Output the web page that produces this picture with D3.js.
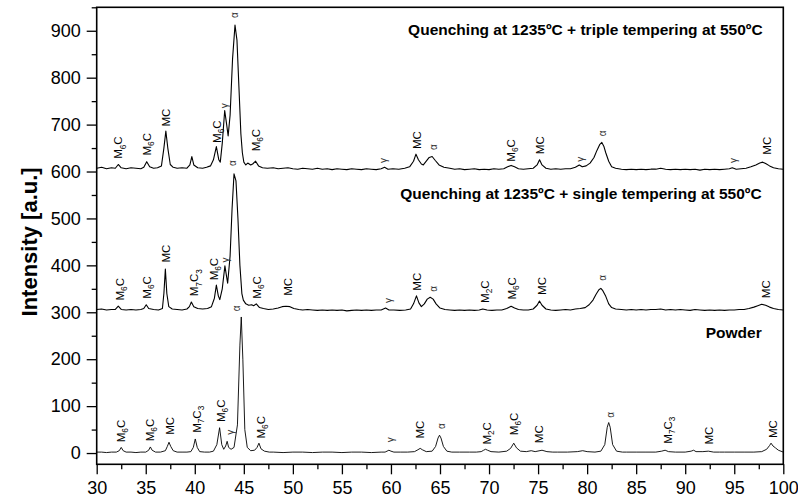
<!DOCTYPE html>
<html>
<head>
<meta charset="utf-8">
<script src="https://cdn.jsdelivr.net/npm/d3@7"></script>
<style>
  body { margin: 0; background: #fff; }
  svg { display: block; font-family: "Liberation Sans", Arial, sans-serif; }
</style>
</head>
<body>
<div id="chart"></div>
<script>
// XRD patterns: powder, single and triple tempering

const X_TICKS = [30, 35, 40, 45, 50, 55, 60, 65, 70, 75, 80, 85, 90, 95, 100];
const Y_TICKS = [0, 100, 200, 300, 400, 500, 600, 700, 800, 900];

// [2theta, intensity]
const tripleTemper = [
  [30,607],[30.5,609],[31,606],[31.5,608],[31.9,607],[32.2,615],[32.5,608],[33,606],[33.5,608],[34,607],
  [34.5,606],[34.8,609],[35.1,621],[35.4,610],[35.8,607],[36.2,608],[36.6,612],[36.85,650],[37.05,686],[37.25,650],
  [37.5,615],[37.8,609],[38.2,607],[38.7,608],[39.2,607],[39.5,614],[39.7,632],[39.9,614],[40.3,608],[40.8,607],
  [41.2,609],[41.6,612],[41.9,625],[42.2,653],[42.45,625],[42.6,620],[42.8,660],[43.05,730],[43.25,700],[43.4,676],
  [43.6,720],[43.85,840],[44.1,912],[44.3,880],[44.5,780],[44.7,680],[44.85,640],[45,620],[45.2,614],[45.4,618],
  [45.7,614],[45.9,616],[46.2,622],[46.5,612],[46.9,608],[47.4,607],[48,608],[48.5,606],[49,607],[49.5,608],
  [50,606],[50.5,605],[51,607],[51.5,606],[52,605],[52.5,607],[53,605],[53.5,606],[54,604],[54.5,606],
  [55,605],[55.5,604],[56,606],[56.5,605],[57,604],[57.5,606],[58,605],[58.5,604],[59,606],[59.35,609],
  [59.7,605],[60.2,606],[60.8,605],[61.4,607],[61.9,610],[62.3,622],[62.55,637],[62.8,625],[63.1,616],[63.3,614],
  [63.6,622],[63.9,630],[64.2,632],[64.5,624],[64.9,614],[65.4,609],[66,607],[66.5,605],[67,606],[67.5,604],
  [68,605],[68.5,606],[69,604],[69.5,605],[70,604],[70.5,606],[71,605],[71.5,606],[71.9,610],[72.25,613],
  [72.6,610],[73,606],[73.5,605],[74,606],[74.5,607],[74.9,614],[75.15,625],[75.4,614],[75.8,607],[76.3,605],
  [76.8,606],[77.3,605],[77.8,606],[78.3,606],[78.8,609],[79.2,614],[79.5,610],[79.9,612],[80.3,618],[80.7,630],
  [81,645],[81.3,658],[81.5,662],[81.7,654],[81.9,640],[82.2,622],[82.5,610],[82.9,607],[83.5,605],[84,604],
  [84.5,605],[85,604],[85.5,605],[86,604],[86.5,605],[87,605],[87.5,607],[88,605],[88.5,604],[89,605],
  [89.5,604],[90,605],[90.5,604],[91,605],[91.5,603],[92,605],[92.5,604],[93,605],[93.5,604],[94,605],
  [94.5,606],[94.8,608],[95.2,605],[95.7,606],[96.2,607],[96.7,610],[97.2,614],[97.6,618],[97.9,620],[98.2,617],
  [98.6,612],[99,608],[99.5,606],[100,605]
];

const singleTemper = [
  [30,306],[30.5,307],[31,305],[31.5,306],[31.9,306],[32.2,313],[32.5,306],[33,305],[33.5,306],[34,305],
  [34.5,306],[34.8,308],[35.05,316],[35.3,308],[35.8,306],[36.3,305],[36.7,308],[36.85,340],[37,392],[37.15,340],
  [37.35,312],[37.7,307],[38.2,306],[38.7,305],[39.2,307],[39.45,312],[39.65,322],[39.9,312],[40.3,308],[40.8,307],
  [41.3,308],[41.7,312],[42,330],[42.2,358],[42.4,335],[42.55,327],[42.8,350],[43.07,399],[43.25,375],[43.35,362],
  [43.6,420],[43.8,520],[44,595],[44.2,580],[44.4,500],[44.6,400],[44.8,340],[44.95,326],[45.2,318],[45.5,315],
  [45.8,316],[46,314],[46.27,318],[46.6,310],[47,308],[47.5,306],[48,307],[48.5,309],[48.9,312],[49.3,313],
  [49.7,312],[50.1,308],[50.6,306],[51,305],[51.5,306],[52,305],[52.5,304],[53,305],[53.5,304],[54,305],
  [54.5,304],[55,305],[55.5,303],[56,304],[56.5,305],[57,304],[57.5,305],[58,304],[58.5,305],[59,305],
  [59.45,309],[59.8,305],[60.3,305],[60.9,304],[61.5,305],[62,307],[62.3,318],[62.6,335],[62.85,320],[63.1,312],
  [63.4,318],[63.7,328],[64,332],[64.3,328],[64.6,318],[65,309],[65.5,306],[66,305],[66.5,304],[67,305],
  [67.5,304],[68,305],[68.5,304],[69,305],[69.36,307],[69.8,305],[70.3,304],[70.8,305],[71.3,305],[71.8,308],
  [72.25,313],[72.6,309],[73,306],[73.5,305],[74,305],[74.5,307],[74.9,315],[75.14,324],[75.4,315],[75.8,307],
  [76.3,305],[76.8,304],[77.3,305],[77.8,306],[78.3,305],[78.8,307],[79.3,308],[79.8,310],[80.2,316],[80.6,326],
  [80.9,338],[81.2,348],[81.4,351],[81.6,346],[81.9,334],[82.2,318],[82.5,310],[82.9,307],[83.5,306],[84,305],
  [84.5,306],[85,305],[85.5,306],[86,305],[86.5,306],[87,306],[87.5,307],[88,305],[88.5,306],[89,305],
  [89.5,306],[90,305],[90.5,304],[91,306],[91.5,305],[92,304],[92.5,305],[93,304],[93.5,305],[94,304],
  [94.5,305],[95,305],[95.5,306],[96,306],[96.5,308],[97,311],[97.4,314],[97.8,317],[98.2,315],[98.6,311],
  [99,308],[99.5,306],[100,305]
];

const powder = [
  [30,2],[30.5,2],[31,1],[31.5,2],[32,2],[32.3,5],[32.5,12],[32.7,5],[33,2],[33.5,2],
  [34,1],[34.5,2],[35,2],[35.3,6],[35.47,13],[35.65,6],[36,2],[36.5,2],[37,5],[37.2,14],
  [37.37,23],[37.55,14],[37.8,5],[38.2,2],[38.7,2],[39.2,2],[39.6,3],[39.85,12],[40.05,30],[40.25,12],
  [40.5,3],[41,2],[41.5,2],[41.9,4],[42.25,18],[42.53,54],[42.75,18],[42.95,8],[43.15,15],[43.3,25],
  [43.45,12],[43.7,8],[44,12],[44.35,60],[44.6,230],[44.74,290],[44.9,200],[45.1,50],[45.35,12],[45.7,5],
  [46.1,6],[46.35,12],[46.54,21],[46.75,9],[47.1,4],[47.6,2],[48,2],[49,1],[50,2],[51,2],
  [52,1],[53,2],[54,2],[55,1],[56,2],[57,2],[58,1],[59,2],[59.4,2],[59.6,4],
  [59.79,6],[60,4],[60.3,2],[61,2],[61.7,2],[62.4,3],[62.75,7],[62.98,10],[63.2,7],[63.6,3],
  [64.2,4],[64.55,14],[64.8,32],[64.95,38],[65.1,32],[65.35,14],[65.7,4],[66.2,2],[67,2],[68,2],
  [68.7,2],[69.2,3],[69.45,6],[69.64,8],[69.85,6],[70.2,3],[71,2],[71.8,4],[72.2,10],[72.52,21],
  [72.8,11],[73.2,4],[73.8,3],[74.3,5],[74.7,3],[75.4,6],[75.9,3],[76.5,2],[77,2],[78,2],
  [79,3],[79.55,5],[80,3],[80.8,2],[81.4,4],[81.8,18],[82.05,55],[82.2,65],[82.35,55],[82.6,18],
  [83,4],[83.6,2],[84,2],[85,2],[86,2],[87,2],[87.6,4],[87.95,6],[88.3,3],[89,2],
  [90,2],[90.6,4],[90.86,6],[91.1,3],[91.8,3],[92.36,4],[92.9,2],[93.5,2],[94,2],[95,2],
  [96,2],[97,2],[97.8,3],[98.3,8],[98.6,16],[98.75,21],[98.95,15],[99.2,11],[99.5,6],[100,2]
];

// phase labels: [2theta, intensity at label foot, phase]  ("_n" = subscript)
const tripleLabels = [
  [32.2,627,"M_6C"],[35.1,634,"M_6C"],[37.05,696,"MC"],[42.2,661,"M_6C"],[43.0,735,"γ"],[44.05,927,"α"],
  [46.25,643,"M_6C"],[59.2,618,"γ"],[62.65,648,"MC"],[64.3,646,"α"],[72.25,621,"M_6C"],[75.2,637,"MC"],
  [79.35,621,"γ"],[81.6,675,"α"],[94.9,618,"γ"],[98.3,636,"MC"]
];
const singleLabels = [
  [32.35,325,"M_6C"],[35.1,329,"M_6C"],[37.1,406,"MC"],[39.95,334,"M_7C_3"],[41.9,368,"M_6C"],[43.08,406,"γ"],
  [43.85,612,"α"],[46.3,329,"M_6C"],[49.5,335,"MC"],[59.7,320,"γ"],[62.6,346,"MC"],[64.3,344,"α"],
  [69.6,320,"M_2C"],[72.3,327,"M_6C"],[75.35,337,"MC"],[81.6,367,"α"],[98.25,330,"MC"]
];
const powderLabels = [
  [32.45,23,"M_6C"],[35.43,25,"M_6C"],[37.47,39,"MC"],[40.2,43,"M_7C_3"],[42.64,66,"M_6C"],[43.6,39,"γ"],
  [44.27,302,"α"],[46.7,31,"M_6C"],[59.9,23,"γ"],[62.9,31,"MC"],[65.1,51,"α"],[69.8,18,"M_2C"],
  [72.48,38,"M_6C"],[75.1,21,"MC"],[82.33,75,"α"],[88.18,20,"M_7C_3"],[92.36,18,"MC"],[98.98,32,"MC"]
];

// curve titles: [right end 2theta, baseline intensity, text]
const curveTitles = [
  [97.9, 891, "Quenching at 1235ºC + triple tempering at 550ºC"],
  [97.8, 542, "Quenching at 1235ºC + single tempering at 550ºC"],
  [97.8, 246, "Powder"]
];

const WIDTH = 798;
const HEIGHT = 501;
const margin = { top: 7.3, right: 14.7, bottom: 36.7, left: 96.7 };
const innerW = WIDTH - margin.left - margin.right;
const innerH = HEIGHT - margin.top - margin.bottom;

const svg = d3.select("#chart").append("svg")
  .attr("width", WIDTH)
  .attr("height", HEIGHT);

const g = svg.append("g").attr("transform", `translate(${margin.left},${margin.top})`);

const x = d3.scaleLinear().domain([30, 100]).range([0, innerW]);
const y = d3.scaleLinear().domain([-24, 950]).range([innerH, 0]);

// minor ticks
const xMinor = d3.range(32.5, 100, 5);
const yMinor = d3.range(-50, 951, 100).filter(v => v > -24);

g.append("g")
  .attr("transform", `translate(0,${innerH})`)
  .call(d3.axisBottom(x).tickValues(xMinor).tickSize(5).tickSizeOuter(0).tickFormat(""))
  .call(a => a.select(".domain").remove())
  .call(a => a.selectAll("line").attr("stroke-width", 1.3));

g.append("g")
  .call(d3.axisLeft(y).tickValues(yMinor).tickSize(5).tickSizeOuter(0).tickFormat(""))
  .call(a => a.select(".domain").remove())
  .call(a => a.selectAll("line").attr("stroke-width", 1.3));

const xAxis = g.append("g")
  .attr("transform", `translate(0,${innerH})`)
  .call(d3.axisBottom(x).tickValues(X_TICKS).tickSize(10).tickSizeOuter(0).tickPadding(7));

const yAxis = g.append("g")
  .call(d3.axisLeft(y).tickValues(Y_TICKS).tickSize(10).tickSizeOuter(0).tickPadding(6));

[xAxis, yAxis].forEach(a => {
  a.select(".domain").remove();
  a.selectAll("line").attr("stroke-width", 1.3);
  a.selectAll("text").attr("font-size", 18).attr("fill", "#000")
    .attr("font-family", "'Liberation Sans', Arial, sans-serif");
});

// frame
g.append("rect")
  .attr("width", innerW)
  .attr("height", innerH)
  .attr("fill", "none")
  .attr("stroke", "#000")
  .attr("stroke-width", 1.6);

const line = d3.line().x(d => x(d[0])).y(d => y(d[1]));

[[tripleTemper, 1.1], [singleTemper, 1.1], [powder, 0.9]].forEach(([data, w]) => {
  g.append("path")
    .datum(data)
    .attr("fill", "none")
    .attr("stroke", "#000")
    .attr("stroke-width", w)
    .attr("stroke-linejoin", "round")
    .attr("d", line);
});

// phase labels, rotated, subscripts via tspans
function drawLabel(sel, d) {
  const txt = d[2];
  const greek = txt === "α" || txt === "γ";
  const fs = greek ? 10 : 11.5;
  const t = sel.append("text")
    .attr("transform", `translate(${x(d[0]) + fs * 0.36},${y(d[1])}) rotate(-90)`)
    .attr("font-size", fs)
    .attr("fill", greek ? "#333" : "#000");
  const parts = txt.split(/(_\d)/).filter(s => s.length);
  parts.forEach(p => {
    if (p[0] === "_") {
      t.append("tspan").attr("font-size", fs * 0.72).attr("dy", fs * 0.28).text(p.slice(1));
    } else {
      const prevSub = t.selectAll("tspan").size() > 0 &&
        t.select("tspan:last-child").attr("dy") > 0;
      t.append("tspan").attr("dy", prevSub ? -fs * 0.28 : null).text(p);
    }
  });
}

const labelLayer = g.append("g");
[tripleLabels, singleLabels, powderLabels].forEach(arr => arr.forEach(d => drawLabel(labelLayer, d)));

g.append("g").selectAll("text")
  .data(curveTitles)
  .enter()
  .append("text")
  .attr("x", d => x(d[0]))
  .attr("y", d => y(d[1]))
  .attr("text-anchor", "end")
  .attr("font-size", 15.5)
  .attr("font-weight", "bold")
  .text(d => d[2]);

svg.append("text")
  .attr("transform", `translate(37,${margin.top + y(450)}) rotate(-90)`)
  .attr("text-anchor", "middle")
  .attr("font-size", 22)
  .attr("font-weight", "bold")
  .text("Intensity [a.u.]");
</script>
</body>
</html>
